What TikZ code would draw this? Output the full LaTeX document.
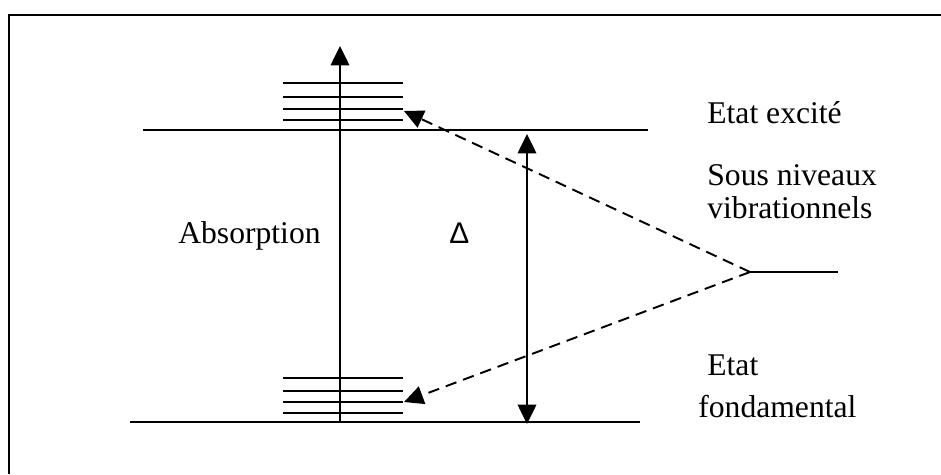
\documentclass[tikz,border=0pt]{standalone}
\usepackage{fontspec}
\setmainfont{Liberation Serif}
\newfontfamily\deltafont{Liberation Sans}
\usetikzlibrary{arrows.meta}

\tikzset{
  level/.style={line width=1.25pt},
  sublevel/.style={line width=1.15pt},
  ltri/.tip={Triangle[length=11pt,width=10.5pt]},
  label/.style={anchor=base west,inner sep=0pt,font=\fontsize{18}{22}\selectfont},
}

\begin{document}
\begin{tikzpicture}[x=0.02cm,y=-0.02cm]
  \useasboundingbox (0,0) rectangle (941,474);
  % frame
  \draw[line width=1.3pt] (9,474) -- (9,15) -- (941,15);
  % levels
  \coordinate (exc-l) at (143,130);
  \coordinate (exc-r) at (648,130);
  \coordinate (fund-l) at (130,422);
  \coordinate (fund-r) at (640,422);
  \draw[level] (exc-l) -- (exc-r);
  \draw[level] (fund-l) -- (fund-r);
  % vibrational sub-levels
  \foreach \y in {83,97,109,120} \draw[sublevel] (283,\y) -- (403,\y);
  \foreach \y in {378,391,402,413} \draw[sublevel] (283,\y) -- (403,\y);
  % absorption
  \coordinate (abs-a) at (340,422);
  \coordinate (abs-b) at (340,46);
  \draw[level,-ltri] (abs-a) -- (abs-b);
  \node[label] (absorption) at (178,243) {Absorption};
  % gap
  \coordinate (gap-a) at (527,134);
  \coordinate (gap-b) at (527,424);
  \draw[level,ltri-ltri] (gap-a) -- (gap-b);
  \node[label] (delta) at (449,243) {\deltafont\fontsize{17}{20}\selectfont Δ};
  % sub-levels pointer
  \coordinate (fork) at (750,272);
  \coordinate (fork-end) at (838,272);
  \coordinate (sub-exc) at (404,111);
  \coordinate (sub-fund) at (404,402);
  \draw[line width=1.1pt] (fork) -- (fork-end);
  \draw[line width=1.1pt,dash pattern=on 6.5pt off 4pt,-ltri] (fork) -- (sub-exc);
  \draw[line width=1.1pt,dash pattern=on 6.5pt off 4pt,-ltri] (fork) -- (sub-fund);
  % texts
  \node[label] (excite) at (707,123) {Etat excité};
  \node[label] (sous) at (707,185) {Sous niveaux};
  \node[label] (vibr) at (707,218) {vibrationnels};
  \node[label] (etat) at (707,375) {Etat};
  \node[label] (fond) at (698,417) {fondamental};
\end{tikzpicture}
\end{document}
